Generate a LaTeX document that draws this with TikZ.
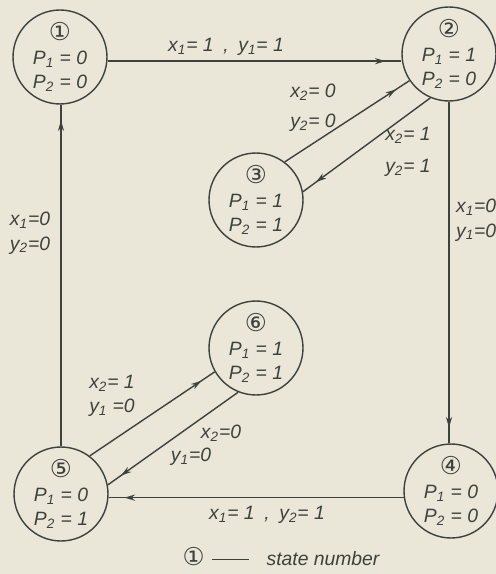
\documentclass[tikz,border=0pt]{standalone}
\usepackage{fontspec}
\setmainfont{Liberation Sans}
\newfontfamily\circfont{DejaVu Sans}
\usetikzlibrary{arrows.meta,decorations.markings}
\definecolor{paper}{RGB}{234,230,216}
\definecolor{ink}{RGB}{62,66,60}
\newcommand{\statenum}[1]{{\fontsize{14}{13.5}\selectfont\circfont #1}}
\begin{document}
\begin{tikzpicture}[x=0.02cm, y=-0.02cm,
  state/.style={draw=ink, line width=0.8pt, circle, minimum size=1.88cm, inner sep=0pt, align=center, text=ink, font=\fontsize{11}{13.5}\selectfont\itshape},
  cond/.style={align=center, inner sep=1pt, text=ink, font=\fontsize{11}{14}\selectfont\itshape},
  trans/.style={draw=ink, line width=0.8pt, postaction={decorate}, decoration={markings, mark=at position -9pt with {\arrow{Stealth[length=6pt,width=3.5pt]}}}}]
\useasboundingbox (0,0) rectangle (496,574);
\fill[paper] (0,0) rectangle (496,574);
\node[state] (n1) at (60,57) {\statenum{①}\\P\textsubscript{1} = 0\\P\textsubscript{2} = 0};
\node[state] (n2) at (449,54) {\statenum{②}\\P\textsubscript{1} = 1\\P\textsubscript{2} = 0};
\node[state] (n3) at (256,200) {\statenum{③}\\P\textsubscript{1} = 1\\P\textsubscript{2} = 1};
\node[state] (n4) at (451,491) {\statenum{④}\\P\textsubscript{1} = 0\\P\textsubscript{2} = 0};
\node[state] (n5) at (61,494) {\statenum{⑤}\\P\textsubscript{1} = 0\\P\textsubscript{2} = 1};
\node[state] (n6) at (256,348) {\statenum{⑥}\\P\textsubscript{1} = 1\\P\textsubscript{2} = 1};
\draw[trans] (n1.-5) -- (n1.-5 -| n2.west);
\draw[trans] (n3.53) -- (n2.214);
\draw[trans] (n2.247) -- (n3.10);
\draw[trans] (n2.south) -- (n2.south |- n4.north);
\draw[trans] (n4.188) -- (n4.188 -| n5.east);
\draw[trans] (n5.north) -- (n5.north |- n1.south);
\draw[trans] (n5.53) -- (n6.210);
\draw[trans] (n6.248) -- (n5.11);
\node[cond] (c12) at (226,47) {x\textsubscript{1}= 1\enspace,\enspace y\textsubscript{1}= 1};
\node[cond] (c32) at (313,108) {x\textsubscript{2}= 0\\[3pt]y\textsubscript{2}= 0};
\node[cond] (c23) at (408,152) {x\textsubscript{2}= 1\\[4pt]y\textsubscript{2}= 1};
\node[cond, anchor=west, align=left] (c24) at (454,220) {x\textsubscript{1}=0\\y\textsubscript{1}=0};
\node[cond] (c51) at (30,233) {x\textsubscript{1}=0\\y\textsubscript{2}=0};
\node[cond] (c56) at (112,396) {x\textsubscript{2}= 1\\y\textsubscript{1} =0};
\node[cond] (c65x) at (221,433) {x\textsubscript{2}=0};
\node[cond] (c65y) at (191,457) {y\textsubscript{1}=0};
\node[cond] (c45) at (267,515) {x\textsubscript{1}= 1\enspace,\enspace y\textsubscript{2}= 1};
\node[cond] (key) at (281,557) {\statenum{①}\hspace{4pt}\rule[0.6ex]{0.75cm}{0.5pt}\hspace{0.35cm}state number};
\end{tikzpicture}
\end{document}
